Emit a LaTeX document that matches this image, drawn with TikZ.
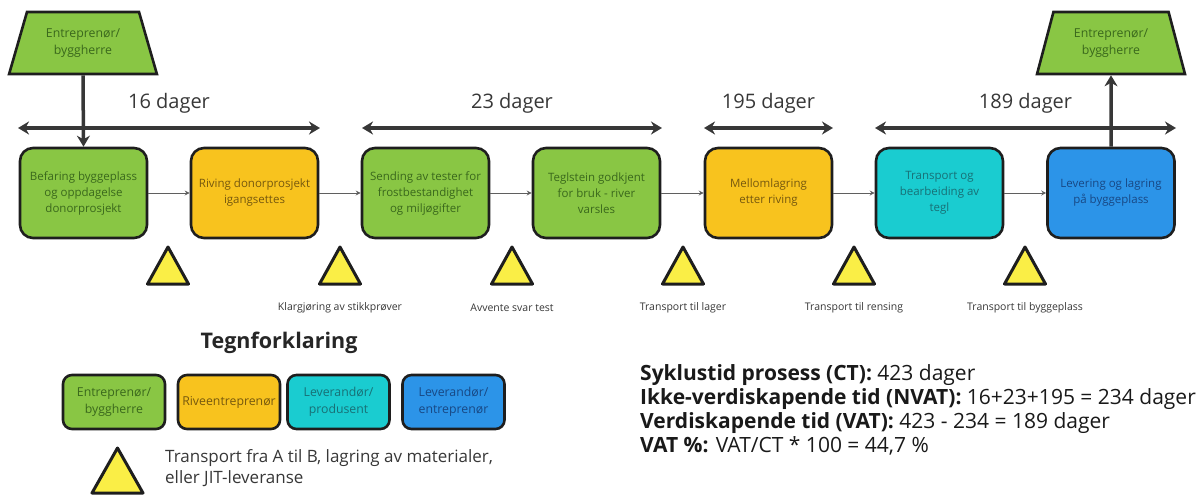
\documentclass[tikz,border=0pt]{standalone}
\usepackage{fontspec}
\setmainfont{Open Sans}
\usepackage{xcolor}
\usetikzlibrary{shapes.geometric,arrows.meta,positioning}

\definecolor{entgreen}{RGB}{137,198,68}
\definecolor{entgreentxt}{RGB}{58,104,28}
\definecolor{riveyellow}{RGB}{248,195,30}
\definecolor{rivetxt}{RGB}{118,88,14}
\definecolor{levcyan}{RGB}{26,204,208}
\definecolor{levcyantxt}{RGB}{24,112,118}
\definecolor{levblue}{RGB}{44,148,232}
\definecolor{levbluetxt}{RGB}{24,72,132}
\definecolor{triyellow}{RGB}{250,238,70}
\definecolor{darkline}{RGB}{55,55,55}
\definecolor{boxedge}{RGB}{30,30,30}

\tikzset{
  proc/.style={draw, boxedge, line width=2.6pt, rounded corners=13pt,
    minimum width=127pt, minimum height=90pt, inner sep=2pt,
    align=center, font=\fontsize{11.5}{16}\selectfont},
  leg/.style={proc, rounded corners=9pt, minimum width=102pt, minimum height=54pt,
    font=\fontsize{12.3}{17}\selectfont},
  ent/.style={preaction={fill=entgreen}, text=entgreentxt},
  rive/.style={preaction={fill=riveyellow}, text=rivetxt},
  levp/.style={preaction={fill=levcyan}, text=levcyantxt},
  leve/.style={preaction={fill=levblue}, text=levbluetxt},
  kunde/.style={trapezium, trapezium stretches=true, trapezium left angle=70,
    trapezium right angle=70, minimum width=148pt, minimum height=62pt,
    draw, boxedge, line width=2.6pt, ent, align=center, font=\fontsize{12.3}{17}\selectfont},
  span/.style={darkline, line width=3.5pt, {Stealth[length=11pt,width=13pt]}-{Stealth[length=11pt,width=13pt]}},
  push/.style={darkline, line width=3.5pt, -{Stealth[length=11pt,width=13pt]}},
  flow/.style={darkline!80, line width=0.8pt, -{Stealth[length=5pt,width=5pt]}},
  days/.style={midway, above=10pt, text=darkline, font=\fontsize{20}{24}\selectfont},
  tri/.style={boxedge, line width=3pt, preaction={fill=triyellow}, line join=round},
  trilabel/.style={text=darkline, font=\fontsize{10.5}{12}\selectfont}
}

\begin{document}
\begin{tikzpicture}[x=1pt,y=-1pt]
\useasboundingbox (0,0) rectangle (1201,495);

% customers at both ends
\node[kunde] (kunde1) at (83,43) {Entreprenør/\\byggherre};
\node[kunde, trapezium left angle=72, trapezium right angle=72] (kunde2) at (1111,43) {Entreprenør/\\byggherre};

% process steps
\node[proc,ent] (b1) at (83.5,193) {Befaring byggeplass\\og oppdagelse\\donorprosjekt};
\node[proc,rive] (b2) at (254.5,193) {Riving donorprosjekt\\igangsettes};
\node[proc,ent] (b3) at (425.5,193) {Sending av tester for\\frostbestandighet\\og miljøgifter};
\node[proc,ent] (b4) at (596.5,193) {Teglstein godkjent\\for bruk - river\\varsles};
\node[proc,rive] (b5) at (768.5,193) {Mellomlagring\\etter riving};
\node[proc,levp] (b6) at (939.5,193) {Transport og\\bearbeiding av\\tegl};
\node[proc,leve] (b7) at (1111,193) {Levering og lagring\\på byggeplass};

\foreach \a/\b in {b1/b2,b2/b3,b3/b4,b4/b5,b5/b6,b6/b7}
\draw[flow] (\a) -- (\b);

\draw[push] (kunde1.south) -- (b1.north);
\draw[push] (b7.north) -- (kunde2.south);

% time spans
\draw[span] (18,128) -- node[days] {16 dager} (320,128);
\draw[span] (362,128) -- node[days] {23 dager} (662,128);
\draw[span] (704,128) -- node[days] {195 dager} (833,128);
\draw[span] (875,128) -- node[days] {189 dager} (1176,128);

% inventory triangles, edit here for the labels
\foreach \x/\lbl [count=\i] in {168/{},340/{Klargjøring av stikkprøver},512/{Avvente svar test},
  683/{Transport til lager},854/{Transport til rensing},1025/{Transport til byggeplass}}
{
\draw[tri] ({\x-20.5},284) -- (\x,247) -- ({\x+20.5},284) -- cycle;
\node[trilabel] (t\i) at (\x,308) {\lbl};
}

% legend
\node[font=\bfseries\fontsize{21.5}{24}\selectfont, text=black!85] (legtitle) at (279,343) {Tegnforklaring};
\node[leg,ent] (l1) at (114,402) {Entreprenør/\\byggherre};
\node[leg,rive] (l2) at (229,402) {Riveentreprenør};
\node[leg,levp] (l3) at (338.5,402) {Leverandør/\\produsent};
\node[leg,leve] (l4) at (453.5,402) {Leverandør/\\entreprenør};
\draw[tri] (92,493) -- (117.5,448) -- (143,493) -- cycle;
\node[anchor=west, align=left, text=darkline, font=\fontsize{17}{20.5}\selectfont, inner sep=0pt] (legtxt) at (165,468)
  {Transport fra A til B, lagring av materialer,\\eller JIT-leveranse};

% key figures
\node[anchor=north west, align=left, text=black!90, font=\fontsize{21}{24}\selectfont, inner sep=0pt] (nokkel) at (640,364.5)
  {\textbf{Syklustid prosess (CT):} 423 dager\\
   \textbf{Ikke-verdiskapende tid (NVAT):} 16+23+195 = 234 dager\\
   \textbf{Verdiskapende tid (VAT):} 423 - 234 = 189 dager\\
   \textbf{VAT \%:} VAT/CT * 100 = 44,7 \%};
\end{tikzpicture}
\end{document}
